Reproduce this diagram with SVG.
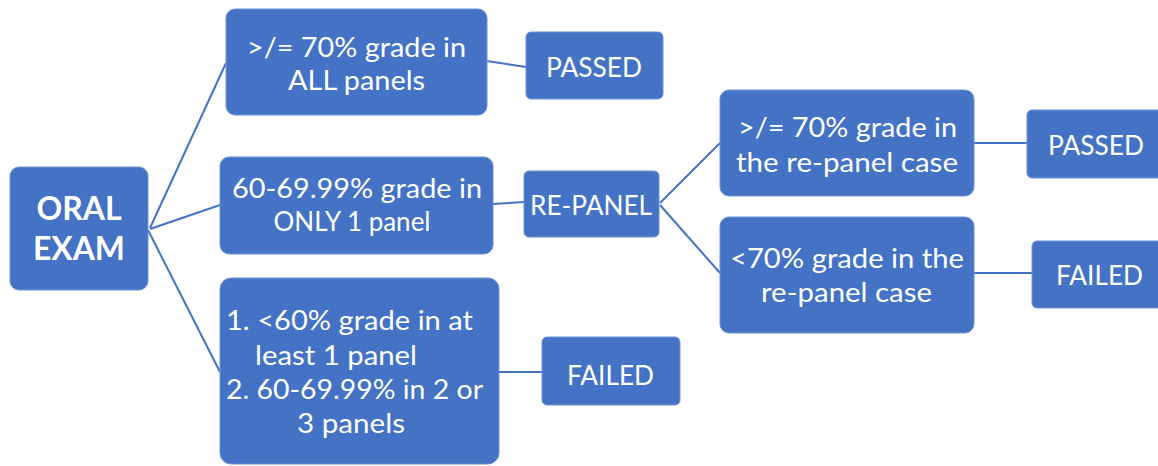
<svg xmlns="http://www.w3.org/2000/svg" width="1158" height="466" viewBox="0 0 1158 466">
<style>
.box{fill:#4472C4;stroke:#6f93d3;stroke-width:1}
.t{font-family:Lato,"Open Sans","Liberation Sans",sans-serif;font-size:27px;fill:#ffffff}
.c{text-anchor:middle}
.b{font-weight:bold;font-size:32px}
.ln{stroke:#4472C4;stroke-width:2;fill:none}
</style>
<rect width="1158" height="466" fill="#ffffff"/>
<g id="connectors">
<line class="ln" x1="150" y1="228" x2="226" y2="63"/>
<line class="ln" x1="150" y1="229" x2="220" y2="205"/>
<line class="ln" x1="148" y1="230" x2="220" y2="372"/>
<line class="ln" x1="487" y1="61" x2="526" y2="67"/>
<line class="ln" x1="493" y1="204" x2="524" y2="202"/>
<line class="ln" x1="660" y1="203" x2="720" y2="143"/>
<line class="ln" x1="660" y1="205" x2="720" y2="273"/>
<line class="ln" x1="974" y1="143" x2="1027" y2="143"/>
<line class="ln" x1="974" y1="273" x2="1032" y2="273"/>
<line class="ln" x1="499" y1="372" x2="542" y2="372"/>
</g>
<g id="oral-exam">
<rect class="box" x="10" y="167" width="138" height="123" rx="9"/>
<text class="t c b" x="79" y="220" textLength="85" lengthAdjust="spacingAndGlyphs">ORAL</text>
<text class="t c b" x="79" y="260" textLength="92" lengthAdjust="spacingAndGlyphs">EXAM</text>
</g>
<g id="all-panels">
<rect class="box" x="226" y="9" width="261" height="106" rx="9"/>
<text class="t c" x="356.5" y="57" textLength="219" lengthAdjust="spacingAndGlyphs">&gt;/= 70% grade in</text>
<text class="t c" x="356.5" y="90" textLength="137" lengthAdjust="spacingAndGlyphs">ALL panels</text>
</g>
<g id="passed-1">
<rect class="box" x="526" y="32" width="137" height="67" rx="5"/>
<text class="t c" x="594" y="77" textLength="96" lengthAdjust="spacingAndGlyphs">PASSED</text>
</g>
<g id="one-panel">
<rect class="box" x="220" y="157" width="273" height="97" rx="9"/>
<text class="t c" x="357" y="198" textLength="250" lengthAdjust="spacingAndGlyphs">60-69.99% grade in</text>
<text class="t c" x="352" y="231" textLength="157" lengthAdjust="spacingAndGlyphs">ONLY 1 panel</text>
</g>
<g id="re-panel">
<rect class="box" x="524" y="171" width="135" height="66" rx="5"/>
<text class="t c" x="591" y="215" textLength="122" lengthAdjust="spacingAndGlyphs">RE-PANEL</text>
</g>
<g id="repanel-pass">
<rect class="box" x="720" y="90" width="254" height="106" rx="9"/>
<text class="t c" x="847.5" y="137" textLength="219" lengthAdjust="spacingAndGlyphs">&gt;/= 70% grade in</text>
<text class="t c" x="847" y="172" textLength="222" lengthAdjust="spacingAndGlyphs">the re-panel case</text>
</g>
<g id="passed-2">
<rect class="box" x="1027" y="110" width="140" height="68" rx="5"/>
<text class="t c" x="1096" y="155" textLength="96" lengthAdjust="spacingAndGlyphs">PASSED</text>
</g>
<g id="repanel-fail">
<rect class="box" x="720" y="217" width="254" height="116" rx="9"/>
<text class="t c" x="847" y="268" textLength="234" lengthAdjust="spacingAndGlyphs">&lt;70% grade in the</text>
<text class="t c" x="846.5" y="302" textLength="171" lengthAdjust="spacingAndGlyphs">re-panel case</text>
</g>
<g id="failed-1">
<rect class="box" x="1032" y="241" width="135" height="67" rx="5"/>
<text class="t c" x="1099.5" y="285" textLength="87" lengthAdjust="spacingAndGlyphs">FAILED</text>
</g>
<g id="low-grade">
<rect class="box" x="220" y="278" width="279" height="186" rx="11"/>
<text class="t" x="226" y="330" textLength="247" lengthAdjust="spacingAndGlyphs">1. &lt;60% grade in at</text>
<text class="t" x="255" y="365" textLength="162" lengthAdjust="spacingAndGlyphs">least 1 panel</text>
<text class="t" x="226" y="399" textLength="257" lengthAdjust="spacingAndGlyphs">2. 60-69.99% in 2 or</text>
<text class="t c" x="351" y="433" textLength="108" lengthAdjust="spacingAndGlyphs">3 panels</text>
</g>
<g id="failed-2">
<rect class="box" x="542" y="337" width="138" height="68" rx="5"/>
<text class="t c" x="610.5" y="385" textLength="87" lengthAdjust="spacingAndGlyphs">FAILED</text>
</g>
</svg>
